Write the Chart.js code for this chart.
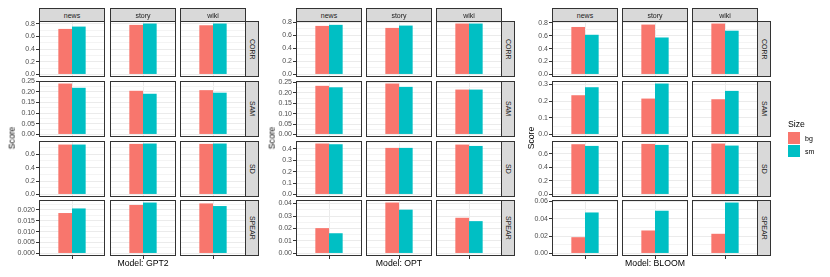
<!DOCTYPE html>
<html><head><meta charset="utf-8">
<script src="https://cdn.jsdelivr.net/npm/chart.js@4"></script>
<style>
body{margin:0;background:#fff;width:830px;height:277px;overflow:hidden;position:relative;font-family:"Liberation Sans",Arial,sans-serif;}
canvas{position:absolute;}
.strip{position:absolute;background:#D9D9D9;border:1px solid #333;box-sizing:border-box;color:#1A1A1A;font-size:7px;display:flex;align-items:center;justify-content:center;line-height:1;}
.vstrip{writing-mode:vertical-rl;}
.t{position:absolute;white-space:nowrap;line-height:1;}
.key{position:absolute;width:12px;height:12px;}
</style></head><body>
<script>
// ---- categories ----
const MODELS = ['GPT2', 'OPT', 'BLOOM'];
const ROWS = ['CORR', 'SAM', 'SD', 'SPEAR'];
const COLS = ['news', 'story', 'wiki'];
const SIZES = ['bg', 'sm'];

// ---- values: rows = CORR, SAM, SD, SPEAR ; cols = news, story, wiki ----
const GPT2_bg = [[0.720, 0.784, 0.778], [0.239, 0.205, 0.208], [0.745, 0.755, 0.755], [0.0185, 0.0222, 0.0229]];
const GPT2_sm = [[0.757, 0.805, 0.805], [0.219, 0.191, 0.196], [0.745, 0.760, 0.760], [0.0206, 0.0233, 0.0217]];
const OPT_bg = [[0.744, 0.713, 0.780], [0.234, 0.245, 0.216], [0.445, 0.407, 0.436], [0.0203, 0.0408, 0.0286]];
const OPT_sm = [[0.760, 0.749, 0.780], [0.227, 0.229, 0.216], [0.439, 0.407, 0.424], [0.0162, 0.0351, 0.0259]];
const BLOOM_bg = [[0.736, 0.773, 0.789], [0.235, 0.215, 0.211], [0.745, 0.750, 0.755], [0.0187, 0.0264, 0.0226]];
const BLOOM_sm = [[0.615, 0.573, 0.678], [0.283, 0.305, 0.261], [0.720, 0.735, 0.725], [0.0471, 0.0491, 0.0585]];

// ---- tick label steps / decimals per row ----
const GPT2_step = [0.2, 0.05, 0.2, 0.005];
const GPT2_dec = [1, 2, 1, 3];
const OPT_step = [0.2, 0.05, 0.1, 0.01];
const OPT_dec = [1, 2, 1, 2];
const BLOOM_step = [0.2, 0.1, 0.2, 0.02];
const BLOOM_dec = [1, 1, 1, 2];

const DATA = {
  GPT2: {bg: GPT2_bg, sm: GPT2_sm, step: GPT2_step, dec: GPT2_dec},
  OPT: {bg: OPT_bg, sm: OPT_sm, step: OPT_step, dec: OPT_dec},
  BLOOM: {bg: BLOOM_bg, sm: BLOOM_sm, step: BLOOM_step, dec: BLOOM_dec}
};
const COLORS = {bg: '#F8766D', sm: '#00BFC4'};

// ---- layout ----
const COL_LEFT = [[39, 110, 180], [296, 366, 436], [552, 622, 692]];
const ROW_TOP = [21, 81, 141, 200];
const PW = 66, PH = 56, PAD = 6, AX = 30, TL = 3;
const SCORE_X = [12, 272, 531];
const FONT = '"Liberation Sans", Arial, sans-serif';

const borderPlugin = {
  id: 'panelBorder',
  afterDraw(chart) {
    const a = chart.chartArea, ctx = chart.ctx;
    ctx.save();
    ctx.strokeStyle = '#333';
    ctx.lineWidth = 1;
    ctx.strokeRect(Math.round(a.left) + 0.5, Math.round(a.top) + 0.5, Math.round(a.width) - 1, Math.round(a.height) - 1);
    ctx.restore();
  }
};

function addDiv(cls, text, css) {
  const d = document.createElement('div');
  d.className = cls;
  d.textContent = text;
  Object.assign(d.style, css);
  document.body.appendChild(d);
  return d;
}

function makePanel(model, mi, r, c) {
  const d = DATA[model];
  const rowMax = Math.max(...d.bg[r], ...d.sm[r]);
  const yMin = -0.05 * rowMax, yMax = 1.05 * rowMax;
  const step = d.step[r], minor = step / 2, dec = d.dec[r];
  const first = c === 0, bottom = r === 3;
  const isMajor = v => Math.abs(v / step - Math.round(v / step)) < 1e-6;
  const canvas = document.createElement('canvas');
  const w = PW + (first ? AX : 0), h = PH + 2 * PAD;
  canvas.width = w; canvas.height = h;
  canvas.style.left = (COL_LEFT[mi][c] - (first ? AX : 0)) + 'px';
  canvas.style.top = (ROW_TOP[r] - PAD) + 'px';
  canvas.style.width = w + 'px'; canvas.style.height = h + 'px';
  document.body.appendChild(canvas);
  new Chart(canvas, {
    type: 'bar',
    data: {
      labels: [''],
      datasets: SIZES.map(s => ({label: s, data: [d[s][r][c]], backgroundColor: COLORS[s], borderWidth: 0}))
    },
    options: {
      responsive: false,
      animation: false,
      layout: {padding: {top: PAD, bottom: bottom ? PAD - TL : PAD, left: 0, right: 0}},
      datasets: {bar: {categoryPercentage: 0.414, barPercentage: 1}},
      plugins: {legend: {display: false}, tooltip: {enabled: false}},
      scales: {
        x: {
          type: 'category', offset: true,
          border: {display: false},
          grid: {offset: false, color: '#EBEBEB', lineWidth: 1, drawTicks: bottom, tickLength: TL, tickColor: '#333', tickWidth: 1},
          ticks: {display: false},
          afterFit: s => { s.height = bottom ? TL : 0; }
        },
        y: {
          type: 'linear', min: yMin, max: yMax,
          border: {display: false},
          afterBuildTicks: s => {
            const t = [];
            for (let k = 0; k * minor <= yMax + 1e-12; k++) t.push({value: +(k * minor).toFixed(8)});
            s.ticks = t;
          },
          grid: {
            color: ctx => (ctx.tick && isMajor(ctx.tick.value)) ? '#EBEBEB' : '#F4F4F4',
            lineWidth: 1,
            drawTicks: first, tickLength: TL, tickWidth: 1,
            tickColor: ctx => (ctx.tick && isMajor(ctx.tick.value)) ? '#333' : 'rgba(0,0,0,0)'
          },
          ticks: {
            display: first, autoSkip: false, padding: 1, color: '#4D4D4D',
            font: {family: FONT, size: 7},
            callback: v => isMajor(v) ? v.toFixed(dec) : ''
          },
          afterFit: s => { s.width = first ? AX : 0; }
        }
      }
    },
    plugins: [borderPlugin]
  });
}

MODELS.forEach((model, mi) => {
  ROWS.forEach((row, r) => {
    COLS.forEach((col, c) => makePanel(model, mi, r, c));
    // right strip
    addDiv('strip vstrip', row, {left: (COL_LEFT[mi][2] + PW - 1) + 'px', top: ROW_TOP[r] + 'px', width: '14px', height: PH + 'px'});
  });
  COLS.forEach((col, c) => {
    addDiv('strip', col, {left: COL_LEFT[mi][c] + 'px', top: '8px', width: PW + 'px', height: '14px'});
  });
  // axis titles
  addDiv('t', 'Score', {left: SCORE_X[mi] + 'px', top: '138px', fontSize: '8.7px', color: '#000', transform: 'translate(-50%,-50%) rotate(-90deg)'});
  addDiv('t', 'Model: ' + model, {left: (COL_LEFT[mi][1] + PW / 2) + 'px', top: '263px', fontSize: '8.7px', color: '#000', transform: 'translate(-50%,-50%)'});
});

// legend
addDiv('t', 'Size', {left: '788px', top: '120px', fontSize: '8.7px', color: '#000'});
SIZES.forEach((s, i) => {
  const k = addDiv('key', '', {left: '788px', top: (132 + i * 13) + 'px', background: COLORS[s]});
  addDiv('t', s, {left: '805px', top: (138 + i * 13) + 'px', fontSize: '7px', color: '#000', transform: 'translateY(-50%)'});
});
</script>
</body></html>
